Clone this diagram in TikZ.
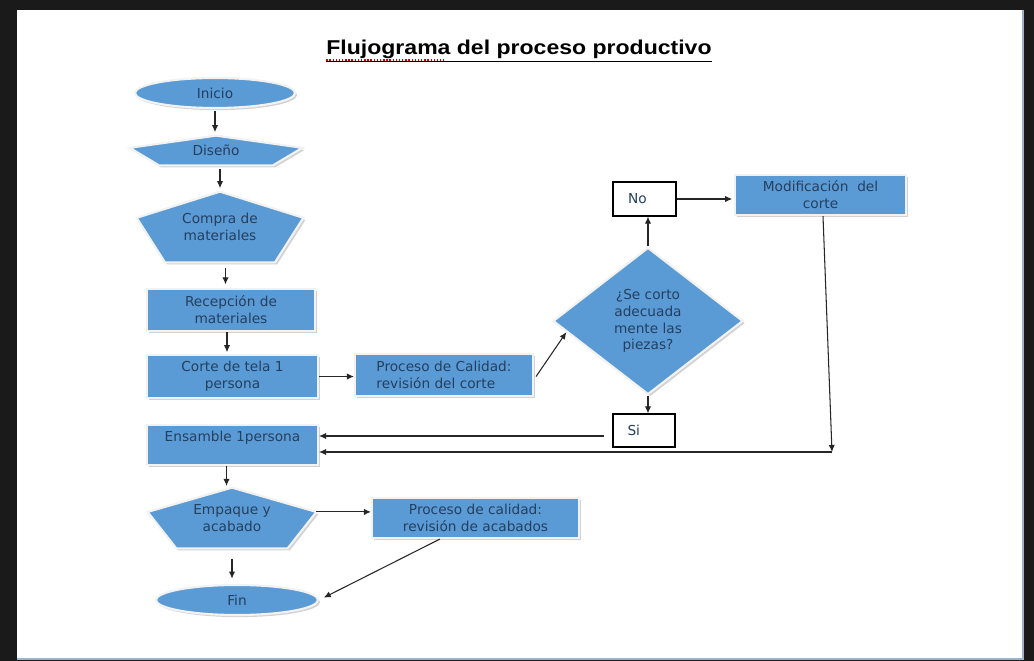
\documentclass[tikz,border=0pt]{standalone}
\usepackage{fontspec}
\setmainfont{DejaVu Sans}
\newfontfamily\titlefont[FakeStretch=1.15]{Liberation Sans}
\usetikzlibrary{shapes.geometric,shadows,backgrounds,calc,arrows.meta}
\newcommand{\pxu}{0.02cm}
\definecolor{boxblue}{HTML}{5B9BD5}
\definecolor{boxtext}{HTML}{243F60}
\definecolor{pagedark}{HTML}{1A1A1A}
\definecolor{pageedge}{HTML}{9DB3CC}
\tikzset{
	shape blue/.style={fill=boxblue, draw=white!90!gray, line width=1.2pt,
		drop shadow={shadow xshift=1.2pt, shadow yshift=-1.2pt, opacity=.35, fill=gray}},
	boxtxt/.style={text=boxtext, font=\fontsize{7.8}{9.6}\selectfont, align=center, inner sep=1pt},
	procbox/.style={shape blue, boxtxt, rectangle},
	endbox/.style={shape blue, boxtxt, ellipse},
	pentbox/.style={boxtxt, rectangle},
	ansbox/.style={boxtxt, rectangle, draw=black, fill=white, line width=0.7pt, align=left},
	flecha/.style={->, draw=black!85, line width=0.6pt}
}
% pentagono detras de un nodo: nodo, altura del lado, recorte de la base
\newcommand{\pentagono}[3]{%
	\path[shape blue] (#1.north) -- ($(#1.north west)!#2!(#1.south west)$)
		-- ($(#1.south west)!#3!(#1.south east)$) -- ($(#1.south east)!#3!(#1.south west)$)
		-- ($(#1.north east)!#2!(#1.south east)$) -- cycle;}
\begin{document}
\begin{tikzpicture}[x=0.02cm,y=-0.02cm,>={Latex[length=4pt,width=3.6pt]}]
	\useasboundingbox (0,0) rectangle (1034,661);
	%Pagina
	\begin{scope}[on background layer]
	\fill[pagedark] (0,0) rectangle (1034,661);
	\fill[white] (17,10) rectangle (1024,658);
	\draw[pageedge, line width=1.2pt] (1023,10) -- (1023,659) -- (17,659);
	\end{scope}
	%Titulo
	\node[font=\titlefont\bfseries\fontsize{11.4}{13}\selectfont, anchor=base] (titulo) at (519,55) {\underline{Flujograma del proceso productivo}};
	\draw[red!85!black, densely dotted, line width=0.8pt] ($(titulo.base west)+(6,5)$) -- ++(118,0);
	%Columna izquierda
	\node[endbox, minimum width=160*\pxu, minimum height=30*\pxu] (inicio) at (215,93) {Inicio};
	\node[pentbox, minimum width=172*\pxu, minimum height=29*\pxu] (diseno) at (216,150.5) {Diseño};
	\node[pentbox, minimum width=166*\pxu, minimum height=70*\pxu] (compra) at (220,227) {Compra de\\materiales};
	\node[procbox, minimum width=168*\pxu, minimum height=42*\pxu] (recepcion) at (231,310) {Recepción de\\materiales};
	\node[procbox, minimum width=171*\pxu, minimum height=43*\pxu] (corte) at (232.5,376.5) {Corte de tela 1\\persona};
	\node[procbox, minimum width=171*\pxu, minimum height=40*\pxu] (ensamble) at (232.5,445) {Ensamble 1persona\\\mbox{}};
	\node[pentbox, minimum width=168*\pxu, minimum height=60*\pxu] (empaque) at (232,518) {Empaque y\\acabado};
	\node[endbox, minimum width=162*\pxu, minimum height=30*\pxu] (fin) at (237,600) {Fin};
	%Calidad
	\node[procbox, minimum width=178*\pxu, minimum height=42*\pxu, align=left] (calidad1) at (444,375) {Proceso de Calidad:\\revisión del corte};
	\node[procbox, minimum width=207*\pxu, minimum height=40*\pxu] (calidad2) at (475.5,518) {Proceso de calidad:\\revisión de acabados};
	%Decision
	\node[shape blue, boxtxt, diamond, minimum width=190*\pxu, minimum height=147*\pxu] (decision) at (648,321) {¿Se corto\\adecuada\\mente las\\piezas?};
	\node[ansbox, minimum width=63*\pxu, minimum height=34*\pxu, text width=33*\pxu] (no) at (644.5,199) {No};
	\node[ansbox, minimum width=62*\pxu, minimum height=33*\pxu, text width=33*\pxu] (si) at (644,430.5) {Si};
	\node[procbox, minimum width=171*\pxu, minimum height=40*\pxu] (modif) at (820.5,195) {Modificación\ \ del\\corte};
	%Pentagonos
	\begin{scope}[on background layer]
	\pentagono{diseno}{0.41}{0.17}
	\pentagono{compra}{0.37}{0.17}
	\pentagono{empaque}{0.4}{0.17}
	\end{scope}
	%Flechas
	\draw[flecha, shorten <=1pt, shorten >=2pt] (inicio.south) -- (inicio.south |- diseno.north);
	\draw[flecha, shorten <=2pt, shorten >=2pt] (diseno.south -| compra.north) -- (compra.north);
	\coordinate (c1) at ($(compra.south)!0.5!(recepcion.north)$);
	\draw[flecha, shorten <=3pt, shorten >=2pt] (c1 |- compra.south) -- (c1 |- recepcion.north);
	\coordinate (c2) at ($(recepcion.south)+(-4,0)$);
	\draw[flecha, shorten >=1pt] (c2) -- (c2 |- corte.north);
	\draw[flecha] (corte.east) -- (corte.east -| calidad1.west);
	\draw[flecha, shorten <=2pt] ($(calidad1.north east)!0.6!(calidad1.south east)$) -- ($(decision.west)!0.15!(decision.south)$);
	\draw[flecha] (decision.north) -- (decision.north |- no.south);
	\draw[flecha, shorten >=1pt] (no.east) -- (no.east -| modif.west);
	\draw[flecha] (decision.south) -- (decision.south |- si.north);
	\coordinate (vuelta) at (832,452);
	\draw[flecha] ($(modif.south)+(2.5,0)$) -- (vuelta);
	\draw[flecha] (vuelta) -- (vuelta -| ensamble.east);
	\coordinate (salida si) at ($(si.west)+(0,5.5)$);
	\draw[flecha, shorten <=4.5pt] (salida si) -- (salida si -| ensamble.east);
	\coordinate (c3) at ($(ensamble.south)+(-6,0)$);
	\draw[flecha, shorten >=1pt] (c3) -- (c3 |- empaque.north);
	\coordinate (vertice) at ($(empaque.north east)!0.4!(empaque.south east)$);
	\draw[flecha] (vertice) -- (vertice -| calidad2.west);
	\draw[flecha, shorten >=3pt] ($(calidad2.south west)!0.33!(calidad2.south east)$) -- (fin.east);
	\draw[flecha, shorten <=6pt, shorten >=3pt] (empaque.south) -- (empaque.south |- fin.north);
\end{tikzpicture}
\end{document}
